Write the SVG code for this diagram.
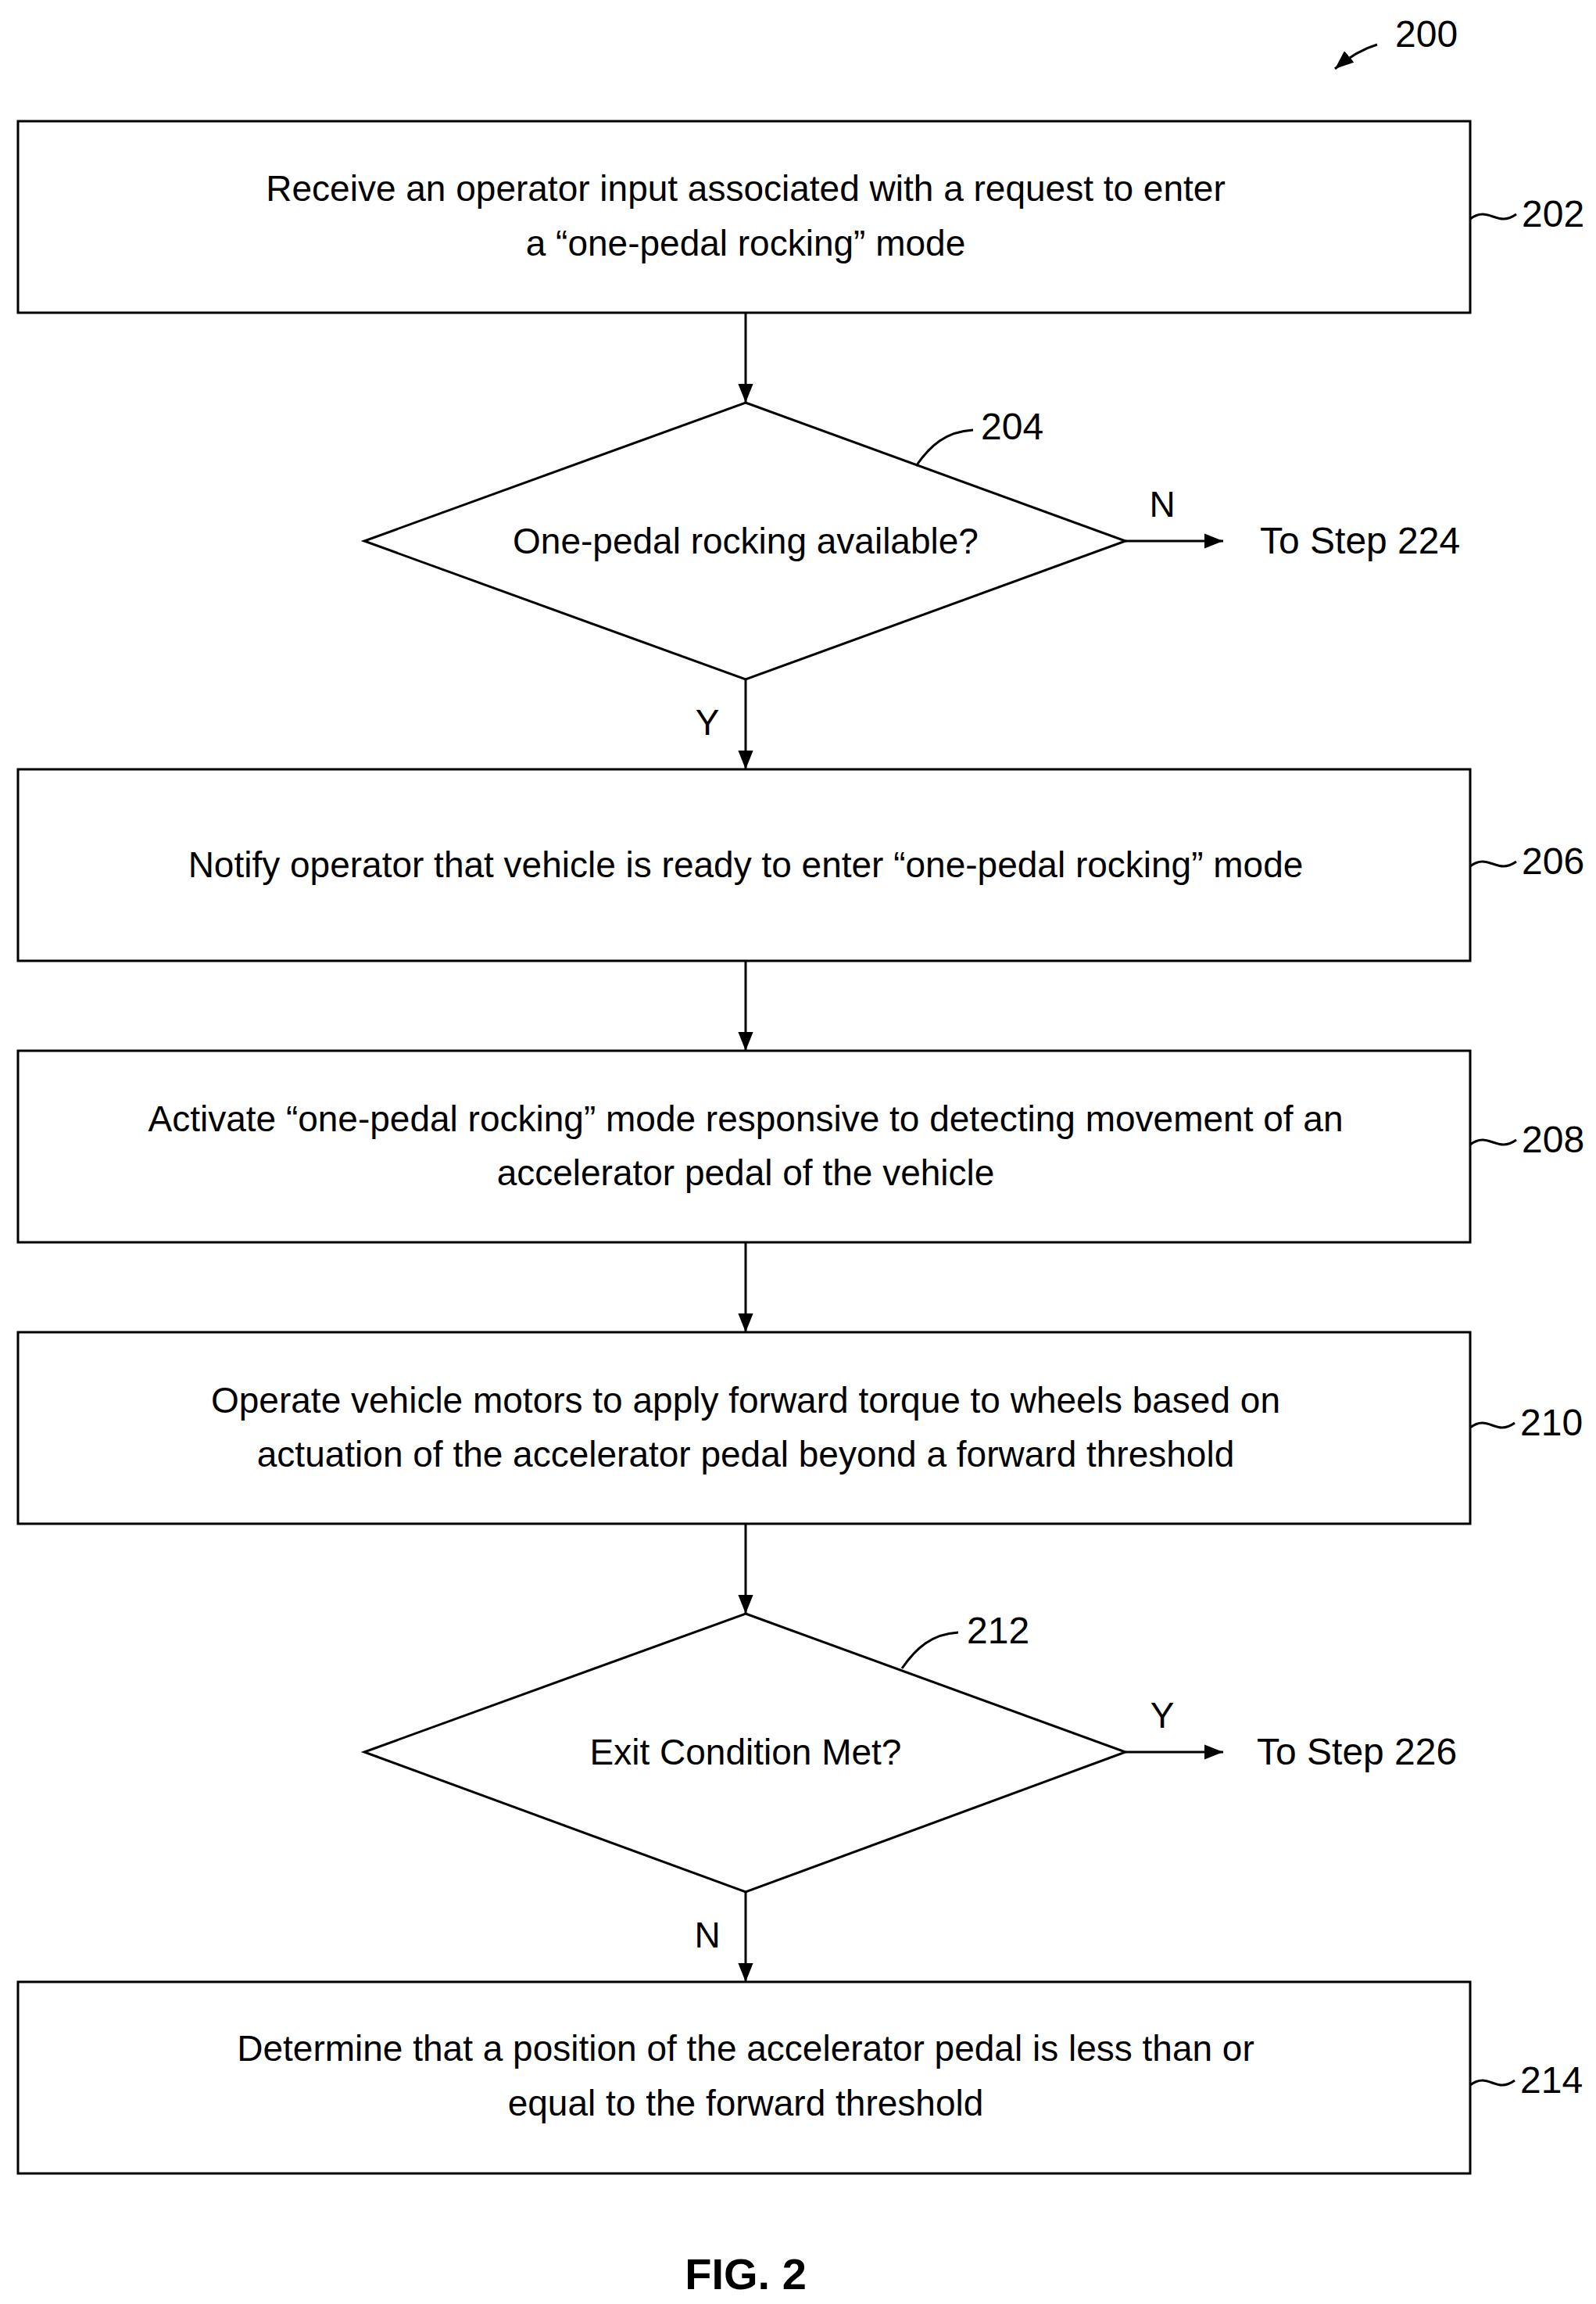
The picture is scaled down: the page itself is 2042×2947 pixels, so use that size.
<svg xmlns="http://www.w3.org/2000/svg" width="2042" height="2947" viewBox="0 0 2042 2947">
<defs>
<marker id="ah" viewBox="0 0 10 10" refX="10" refY="5" markerWidth="10" markerHeight="10" markerUnits="userSpaceOnUse" orient="auto"><path d="M0,0 L10,5 L0,10 z" fill="#000"/></marker>
<marker id="a" viewBox="0 0 10 10" refX="10" refY="5" markerWidth="24" markerHeight="24" markerUnits="userSpaceOnUse" orient="auto"><path d="M0,1 L10,5 L0,9 z" fill="#000"/></marker>
<style>
.n{fill:#fff;stroke:#000;stroke-width:3}
.t{font-family:"Liberation Sans",Arial,sans-serif;font-size:46px;fill:#000;text-anchor:middle}
.r{font-family:"Liberation Sans",Arial,sans-serif;font-size:48px;fill:#000}
.c{stroke:#000;stroke-width:3;fill:none}
</style>
</defs>
<g id="ref200"><text class="r" x="1785" y="60">200</text><path class="c" d="M1762,57 Q1735,65 1708,88" marker-end="url(#a)"/></g>
<g id="n202"><rect class="n" x="23" y="155" width="1858" height="245"/><text class="t" x="954" y="257">Receive an operator input associated with a request to enter</text><text class="t" x="954" y="327">a “one-pedal rocking” mode</text><text class="r" x="1947" y="290">202</text><path class="c" d="M1881,280 C1905,262 1915,292 1940,274"/></g>
<g id="n204"><polygon class="n" points="954,515 1440,692 954,869 466,692"/><text class="t" x="954" y="708">One-pedal rocking available?</text><text class="r" x="1255" y="562">204</text><path class="c" d="M1172,596 C1190,570 1210,552 1245,550"/></g>
<g id="n206"><rect class="n" x="23" y="984" width="1858" height="245"/><text class="t" x="954" y="1122">Notify operator that vehicle is ready to enter “one-pedal rocking” mode</text><text class="r" x="1947" y="1118">206</text><path class="c" d="M1881,1108 C1905,1090 1915,1120 1940,1102"/></g>
<g id="n208"><rect class="n" x="23" y="1344" width="1858" height="245"/><text class="t" x="954" y="1447">Activate “one-pedal rocking” mode responsive to detecting movement of an</text><text class="t" x="954" y="1516">accelerator pedal of the vehicle</text><text class="r" x="1947" y="1474">208</text><path class="c" d="M1881,1464 C1905,1446 1915,1476 1940,1458"/></g>
<g id="n210"><rect class="n" x="23" y="1704" width="1858" height="245"/><text class="t" x="954" y="1807">Operate vehicle motors to apply forward torque to wheels based on</text><text class="t" x="954" y="1876">actuation of the accelerator pedal beyond a forward threshold</text><text class="r" x="1945" y="1836">210</text><path class="c" d="M1881,1826 C1905,1808 1913,1838 1938,1820"/></g>
<g id="n212"><polygon class="n" points="954,2064 1440,2241 954,2420 466,2241"/><text class="t" x="954" y="2257">Exit Condition Met?</text><text class="r" x="1237" y="2102">212</text><path class="c" d="M1154,2134 C1172,2108 1192,2090 1226,2088"/></g>
<g id="n214"><rect class="n" x="23" y="2535" width="1858" height="245"/><text class="t" x="954" y="2636">Determine that a position of the accelerator pedal is less than or</text><text class="t" x="954" y="2706">equal to the forward threshold</text><text class="r" x="1945" y="2677">214</text><path class="c" d="M1881,2667 C1905,2649 1913,2679 1938,2661"/></g>
<g id="connectors">
<line class="c" x1="954" y1="400" x2="954" y2="515" marker-end="url(#a)"/>
<line class="c" x1="954" y1="869" x2="954" y2="984" marker-end="url(#a)"/>
<line class="c" x1="954" y1="1229" x2="954" y2="1344" marker-end="url(#a)"/>
<line class="c" x1="954" y1="1589" x2="954" y2="1704" marker-end="url(#a)"/>
<line class="c" x1="954" y1="1949" x2="954" y2="2064" marker-end="url(#a)"/>
<line class="c" x1="954" y1="2420" x2="954" y2="2535" marker-end="url(#a)"/>
<line class="c" x1="1440" y1="692" x2="1565" y2="692" marker-end="url(#a)"/>
<line class="c" x1="1440" y1="2241" x2="1565" y2="2241" marker-end="url(#a)"/>
<text class="t" x="1487" y="661">N</text>
<text class="t" x="905" y="940">Y</text>
<text class="t" x="1487" y="2210">Y</text>
<text class="t" x="905" y="2491">N</text>
<text class="r" x="1612" y="708" font-size="46">To Step 224</text>
<text class="r" x="1608" y="2257" font-size="46">To Step 226</text>
</g>
<text class="t" x="954" y="2928" style="font-weight:bold;font-size:56px">FIG. 2</text>
</svg>
